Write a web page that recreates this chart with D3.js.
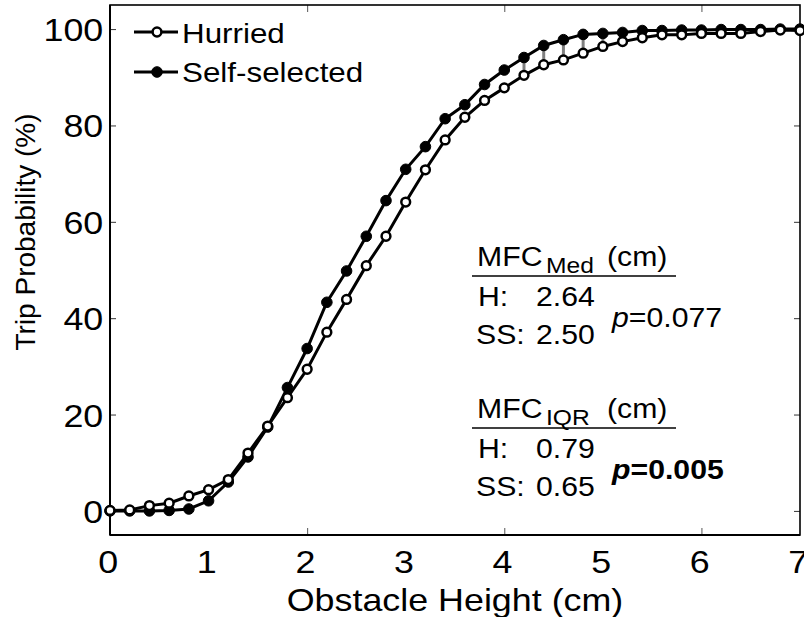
<!DOCTYPE html>
<meta charset="utf-8">
<head>
    <script type="text/javascript" src="https://d3js.org/d3.v7.min.js"></script>
    <style>
        body { margin: 0; background: #fff; }
        svg text { font-family: "Liberation Sans", Arial, sans-serif; fill: #000; }
    </style>
    <title>Trip probability</title>
</head>
<body>
<div id="chart"></div>
<script>
    // obstacle heights (cm), one point every 0.2 cm
    var heights = [0, 0.2, 0.4, 0.6, 0.8, 1.0, 1.2, 1.4, 1.6, 1.8, 2.0, 2.2, 2.4, 2.6, 2.8, 3.0, 3.2, 3.4,
                   3.6, 3.8, 4.0, 4.2, 4.4, 4.6, 4.8, 5.0, 5.2, 5.4, 5.6, 5.8, 6.0, 6.2, 6.4, 6.6, 6.8, 7.0];
    // trip probability (%)
    var hurried = [0.1, 0.2, 1.1, 1.6, 3.1, 4.4, 6.5, 12.0, 17.6, 23.5, 29.4, 37.1, 43.9, 50.9, 57.0, 64.1, 70.8, 77.0,
                   81.7, 85.2, 87.8, 90.4, 92.6, 93.6, 95.0, 96.4, 97.4, 98.2, 98.8, 98.8, 99.1, 99.1, 99.1, 99.5, 99.8, 99.7];
    var selfSelected = [0, 0, 0, 0.1, 0.4, 2.1, 6.0, 11.2, 17.4, 25.6, 33.7, 43.3, 49.8, 57.0, 64.4, 70.9, 75.6, 81.4,
                   84.3, 88.5, 91.5, 94.1, 96.6, 97.8, 98.9, 99.1, 99.3, 99.7, 99.7, 99.8, 99.8, 99.9, 99.9, 99.9, 100, 100];
    // heights where the difference is significant (grey bars)
    var sigHeights = [4.2, 4.4, 4.6, 4.8, 5.0];

    var xTickLabels = [0, 1, 2, 3, 4, 5, 6, 7];
    var xTickMarks = [2, 4, 6];
    var yTicks = [0, 20, 40, 60, 80, 100];

    var seriesNames = ["Hurried", "Self-selected"];

    // the figure is a bit wider than tall, so text is stretched horizontally
    var SX = 1.12;

    var W = 804, H = 617;
    var margin = {top: 5, right: 4, bottom: 82, left: 110};

    var svg = d3.select("#chart").append("svg")
        .attr("width", W).attr("height", H);

    var x = d3.scaleLinear().domain([0, 7]).range([margin.left, W - margin.right]);
    var y = d3.scaleLinear().domain([-5, 105]).range([H - margin.bottom, margin.top]);

    var x0 = x.range()[0], x1 = x.range()[1], y0 = y.range()[0], y1 = y.range()[1];

    // ticks (inward)
    svg.append("g").attr("transform", "translate(0," + y0 + ")")
        .call(d3.axisBottom(x).tickValues(xTickMarks).tickSize(-7).tickFormat(""))
        .call(g => g.select(".domain").remove())
        .selectAll("line").attr("stroke", "#555");
    svg.append("g").attr("transform", "translate(0," + y1 + ")")
        .call(d3.axisTop(x).tickValues(xTickMarks).tickSize(-7).tickFormat(""))
        .call(g => g.select(".domain").remove())
        .selectAll("line").attr("stroke", "#555");
    svg.append("g").attr("transform", "translate(" + x0 + ",0)")
        .call(d3.axisLeft(y).tickValues(yTicks).tickSize(-6).tickFormat(""))
        .call(g => g.select(".domain").remove())
        .selectAll("line").attr("stroke", "#333");
    svg.append("g").attr("transform", "translate(" + x1 + ",0)")
        .call(d3.axisRight(y).tickValues(yTicks).tickSize(-6).tickFormat(""))
        .call(g => g.select(".domain").remove())
        .selectAll("line").attr("stroke", "#333");

    // tick labels
    var xl = svg.append("g").attr("transform", "translate(0," + y0 + ")")
        .call(d3.axisBottom(x).tickValues(xTickLabels).tickSize(0).tickFormat(d3.format("d")));
    xl.select(".domain").remove();
    xl.selectAll("text").attr("y", 38).attr("dy", 0).attr("x", -2)
        .attr("transform", "scale(" + SX + ",1)")
        .style("font-size", "32px").style("font-family", "Liberation Sans, Arial, sans-serif");

    var yl = svg.append("g").attr("transform", "translate(" + x0 + ",0)")
        .call(d3.axisLeft(y).tickValues(yTicks).tickSize(0).tickFormat(d3.format("d")));
    yl.select(".domain").remove();
    yl.selectAll("text").attr("x", -6).attr("dy", "0.36em")
        .attr("transform", "scale(" + SX + ",1)")
        .style("font-size", "32px").style("font-family", "Liberation Sans, Arial, sans-serif");

    // box
    svg.append("rect").attr("x", x0).attr("y", y1)
        .attr("width", x1 - x0).attr("height", y0 - y1)
        .attr("fill", "none").attr("stroke", "#000").attr("stroke-width", 1.6);
    svg.append("line").attr("x1", x0).attr("x2", x1).attr("y1", y0).attr("y2", y0)
        .attr("stroke", "#000").attr("stroke-width", 2);
    svg.append("line").attr("x1", x0).attr("x2", x0).attr("y1", y0).attr("y2", y1)
        .attr("stroke", "#000").attr("stroke-width", 2);

    // significance bars
    svg.append("g").selectAll("line").data(sigHeights).enter().append("line")
        .attr("x1", d => x(d)).attr("x2", d => x(d))
        .attr("y1", d => y(selfSelected[heights.indexOf(d)]))
        .attr("y2", d => y(hurried[heights.indexOf(d)]))
        .attr("stroke", "#808080").attr("stroke-width", 3);

    var line = d3.line().x(d => x(d[0])).y(d => y(d[1]));

    function drawSeries(vals, filled) {
        var pts = heights.map((h, i) => [h, vals[i]]);
        var g = svg.append("g");
        g.append("path").datum(pts).attr("d", line)
            .attr("fill", "none").attr("stroke", "#000").attr("stroke-width", 3);
        g.selectAll("circle").data(pts).enter().append("circle")
            .attr("cx", d => x(d[0])).attr("cy", d => y(d[1]))
            .attr("r", filled ? 5.3 : 4.4)
            .attr("fill", filled ? "#000" : "#fff")
            .attr("stroke", "#000").attr("stroke-width", filled ? 1 : 2.5);
    }
    drawSeries(selfSelected, true);
    drawSeries(hurried, false);

    // stretched text helper
    function label(tx, ty, str, size, opts) {
        opts = opts || {};
        var t = svg.append("g").attr("transform", "translate(" + tx + "," + ty + ")")
            .append("text").attr("transform", "scale(" + SX + ",1)")
            .style("font-size", size + "px")
            .text(str);
        if (opts.bold) t.style("font-weight", "bold");
        if (opts.anchor) t.attr("text-anchor", opts.anchor);
        return t;
    }

    // legend
    var legendRows = [{name: seriesNames[0], filled: false, ly: 32, ty: 43},
                      {name: seriesNames[1], filled: true, ly: 72, ty: 82}];
    legendRows.forEach(function (r) {
        svg.append("line").attr("x1", 134).attr("x2", 178).attr("y1", r.ly).attr("y2", r.ly)
            .attr("stroke", "#000").attr("stroke-width", 3);
        svg.append("circle").attr("cx", 157).attr("cy", r.ly)
            .attr("r", r.filled ? 5.3 : 4.4)
            .attr("fill", r.filled ? "#000" : "#fff")
            .attr("stroke", "#000").attr("stroke-width", r.filled ? 1 : 2.5);
        label(182, r.ty, r.name, 28);
    });

    // axis titles
    label((x0 + x1) / 2, 611, "Obstacle Height (cm)", 32, {anchor: "middle"});
    svg.append("text")
        .attr("transform", "translate(35,232) rotate(-90)")
        .attr("text-anchor", "middle")
        .style("font-size", "28px")
        .text("Trip Probability (%)");

    // annotation blocks
    function statBlock(top, sub, hVal, ssVal, pText, bold) {
        label(477, top, "MFC", 27);
        label(546, top + 6.5, sub, 22);
        label(607, top, "(cm)", 27);
        svg.append("line").attr("x1", 472).attr("x2", 676)
            .attr("y1", top + 10).attr("y2", top + 10)
            .attr("stroke", "#000").attr("stroke-width", 1.6);
        label(478, top + 40, "H:", 27);
        label(536, top + 40, hVal, 27);
        label(476, top + 78, "SS:", 27);
        label(536, top + 78, ssVal, 27);
        var p = label(612, top + 61, "", 27, {bold: bold});
        p.append("tspan").style("font-style", "italic").text("p");
        p.append("tspan").text(pText);
    }
    statBlock(266, "Med", "2.64", "2.50", "=0.077", false);
    statBlock(418, "IQR", "0.79", "0.65", "=0.005", true);
</script>
</body>
</html>
